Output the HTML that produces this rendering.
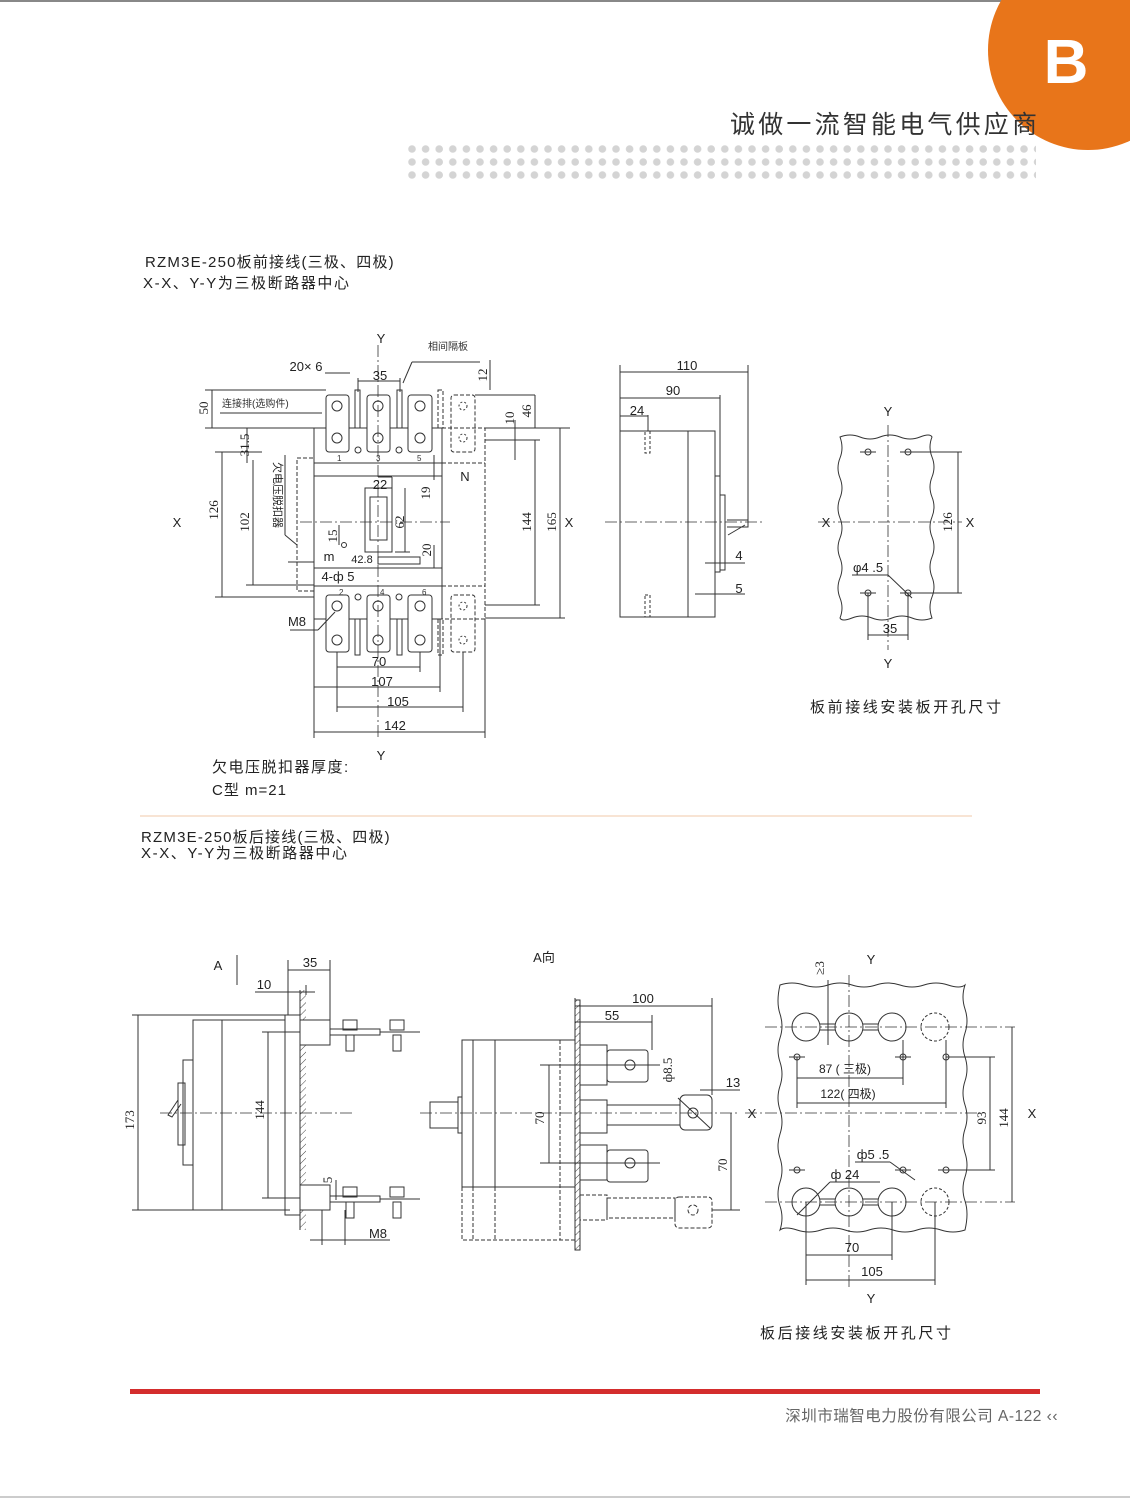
<!DOCTYPE html>
<html><head><meta charset="utf-8"><style>
html,body{margin:0;padding:0;background:#fff;}
body{width:1130px;height:1499px;overflow:hidden;position:relative;font-family:"Liberation Sans","Noto Sans CJK SC",sans-serif;}
svg{position:absolute;left:0;top:0;}
</style></head><body>
<svg width="1130" height="1499" viewBox="0 0 1130 1499" xmlns="http://www.w3.org/2000/svg" font-family="Liberation Sans, Noto Sans CJK SC, sans-serif">
<defs>
<pattern id="dots" x="408" y="145" width="13.6" height="13" patternUnits="userSpaceOnUse"><circle cx="4" cy="4" r="3.8" fill="#d4d4d4"/></pattern>
<pattern id="hatch" width="5" height="5" patternUnits="userSpaceOnUse" patternTransform="rotate(45)"><line x1="0" y1="0" x2="0" y2="5" stroke="#444" stroke-width="1"/></pattern>
</defs>
<!-- header -->
<line x1="0" y1="1" x2="1130" y2="1" stroke="#888" stroke-width="2"/>
<rect x="404" y="145" width="632" height="39" fill="url(#dots)"/>
<circle cx="1088" cy="50" r="100" fill="#e8751a"/>
<text x="1066" y="83" font-size="62" font-weight="bold" fill="#fff" text-anchor="middle">B</text>
<text x="730" y="133" font-size="25" fill="#333" letter-spacing="3.2">诚做一流智能电气供应商</text>

<!-- titles -->
<g font-size="15" fill="#222">
<text x="145" y="267" letter-spacing="1.2">RZM3E-250板前接线(三极、四极)</text>
<text x="143" y="288" letter-spacing="1.6">X-X、Y-Y为三极断路器中心</text>
<text x="141" y="842" letter-spacing="1.2">RZM3E-250板后接线(三极、四极)</text>
<text x="141" y="858" letter-spacing="1.6">X-X、Y-Y为三极断路器中心</text>
<text x="212" y="772" letter-spacing="1.5">欠电压脱扣器厚度:</text>
<text x="212" y="795" letter-spacing="1">C型 m=21</text>
<text x="810" y="712" letter-spacing="2.6">板前接线安装板开孔尺寸</text>
<text x="760" y="1338" letter-spacing="2.6">板后接线安装板开孔尺寸</text>
</g>
<line x1="140" y1="816" x2="972" y2="816" stroke="#f0c8a8" stroke-width="1"/>

<!-- footer -->
<rect x="130" y="1389" width="910" height="5" fill="#d42d2d"/>
<text x="1058" y="1421" font-size="15.5" fill="#666" text-anchor="end" letter-spacing="0.5">深圳市瑞智电力股份有限公司 A-122 ‹‹</text>
<line x1="0" y1="1497" x2="1130" y2="1497" stroke="#999" stroke-width="1"/>

<g stroke="#333" stroke-width="1" fill="none">
<!-- ===== Front view ===== -->
<rect x="314" y="428" width="128" height="191"/>
<line x1="314" y1="463" x2="442" y2="463"/>
<line x1="314" y1="476" x2="442" y2="476"/>
<line x1="314" y1="568" x2="442" y2="568"/>
<line x1="314" y1="586" x2="442" y2="586"/>
<g stroke-dasharray="4,2">
<rect x="297" y="458" width="17" height="133"/>
<polyline points="442,428 485,428 485,619 442,619"/>
<line x1="442" y1="463" x2="485" y2="463"/>
<line x1="442" y1="586" x2="485" y2="586"/>
<rect x="451" y="395" width="24" height="57" rx="3"/>
<rect x="451" y="595" width="24" height="57" rx="3"/>
<rect x="438" y="390" width="5" height="38"/>
<rect x="438" y="619" width="5" height="36"/>
</g>
<g fill="#fff">
<rect x="326" y="395" width="23" height="57" rx="3"/>
<rect x="367" y="395" width="23" height="57" rx="3"/>
<rect x="408" y="395" width="24" height="57" rx="3"/>
<rect x="326" y="595" width="23" height="57" rx="3"/>
<rect x="367" y="595" width="23" height="57" rx="3"/>
<rect x="408" y="595" width="24" height="57" rx="3"/>
<rect x="355" y="390" width="5" height="38"/>
<rect x="397" y="390" width="5" height="38"/>
<rect x="355" y="619" width="5" height="36"/>
<rect x="397" y="619" width="5" height="36"/>
</g>
<g>
<circle cx="337" cy="406" r="5"/><circle cx="378" cy="406" r="5"/><circle cx="420" cy="406" r="5"/><circle cx="463" cy="406" r="4" stroke-dasharray="2,2"/>
<circle cx="337" cy="438" r="5"/><circle cx="378" cy="438" r="5"/><circle cx="420" cy="438" r="5"/><circle cx="463" cy="438" r="4" stroke-dasharray="2,2"/>
<circle cx="337" cy="606" r="5"/><circle cx="378" cy="606" r="5"/><circle cx="420" cy="606" r="5"/><circle cx="463" cy="606" r="4" stroke-dasharray="2,2"/>
<circle cx="337" cy="640" r="5"/><circle cx="378" cy="640" r="5"/><circle cx="420" cy="640" r="5"/><circle cx="463" cy="640" r="4" stroke-dasharray="2,2"/>
<circle cx="358" cy="450" r="3"/><circle cx="399" cy="450" r="3"/><circle cx="358" cy="597" r="3"/><circle cx="399" cy="597" r="3"/>
<circle cx="344" cy="545" r="2.5"/>
</g>
<rect x="365" y="488" width="27" height="64"/>
<rect x="370" y="497" width="17" height="43"/>
<rect x="378" y="557" width="42" height="7"/>
<g stroke-dasharray="12,3,2,3" stroke-width="0.8">
<line x1="300" y1="522" x2="450" y2="522"/>
<line x1="378" y1="345" x2="378" y2="740"/>
</g>
<line x1="325" y1="373" x2="350" y2="373"/><line x1="358" y1="381" x2="400" y2="381"/>
<line x1="358" y1="378" x2="358" y2="392"/><line x1="400" y1="378" x2="400" y2="392"/>
<line x1="212" y1="390" x2="212" y2="428"/><line x1="205" y1="390" x2="326" y2="390"/><line x1="205" y1="428" x2="314" y2="428"/>
<line x1="220" y1="413" x2="322" y2="413"/>
<line x1="403" y1="383" x2="412" y2="362"/><line x1="412" y1="362" x2="480" y2="362"/>
<line x1="222" y1="452" x2="222" y2="597"/><line x1="215" y1="452" x2="262" y2="452"/><line x1="215" y1="597" x2="314" y2="597"/>
<line x1="253" y1="460" x2="253" y2="585"/><line x1="246" y1="585" x2="314" y2="585"/>
<line x1="247" y1="428" x2="247" y2="463"/>
<line x1="285" y1="455" x2="285" y2="535"/><line x1="285" y1="535" x2="297" y2="545"/>
<line x1="288" y1="562" x2="314" y2="562"/>
<line x1="378" y1="477" x2="392" y2="477"/><line x1="392" y1="477" x2="392" y2="488"/>
<line x1="405" y1="488" x2="405" y2="552"/><line x1="395" y1="552" x2="410" y2="552"/>
<line x1="434" y1="455" x2="434" y2="480"/><line x1="434" y1="545" x2="434" y2="568"/>
<line x1="339" y1="525" x2="339" y2="545"/>
<line x1="490" y1="360" x2="490" y2="390"/>
<line x1="475" y1="395" x2="535" y2="395"/>
<line x1="535" y1="395" x2="535" y2="428"/>
<line x1="515" y1="420" x2="515" y2="460"/>
<line x1="485" y1="428" x2="570" y2="428"/><line x1="485" y1="440" x2="540" y2="440"/>
<line x1="535" y1="440" x2="535" y2="605"/><line x1="485" y1="605" x2="540" y2="605"/>
<line x1="560" y1="428" x2="560" y2="618"/><line x1="485" y1="618" x2="565" y2="618"/>
<line x1="290" y1="630" x2="318" y2="630"/><line x1="318" y1="630" x2="335" y2="612"/>
<line x1="337" y1="667" x2="420" y2="667"/><line x1="337" y1="652" x2="337" y2="712"/><line x1="420" y1="652" x2="420" y2="672"/>
<line x1="314" y1="687" x2="440" y2="687"/><line x1="314" y1="619" x2="314" y2="738"/><line x1="440" y1="619" x2="440" y2="692"/>
<line x1="337" y1="707" x2="463" y2="707"/><line x1="463" y1="652" x2="463" y2="712"/>
<line x1="314" y1="732" x2="485" y2="732"/><line x1="485" y1="619" x2="485" y2="738"/>

<!-- ===== Side view ===== -->
<rect x="620" y="431" width="95" height="186"/>
<line x1="688" y1="431" x2="688" y2="617"/>
<polyline points="715,431 715,476 720,476 720,572 715,572"/>
<rect x="720" y="495" width="5" height="75"/>
<polyline points="727,520 748,520 748,527 727,527"/>
<line x1="728" y1="535" x2="745" y2="525"/>
<g stroke-dasharray="3,2"><rect x="645" y="431" width="5" height="22"/><rect x="645" y="595" width="5" height="22"/></g>
<line x1="605" y1="522" x2="765" y2="522" stroke-dasharray="12,3,2,3" stroke-width="0.8"/>
<line x1="620" y1="365" x2="620" y2="431"/><line x1="748" y1="365" x2="748" y2="520"/><line x1="720" y1="395" x2="720" y2="476"/><line x1="648" y1="415" x2="648" y2="431"/>
<line x1="620" y1="372" x2="748" y2="372"/><line x1="620" y1="398" x2="720" y2="398"/><line x1="620" y1="416" x2="648" y2="416"/>
<line x1="705" y1="563" x2="745" y2="563"/><line x1="695" y1="594" x2="745" y2="594"/>

<!-- ===== Front cutout ===== -->
<path d="M840,437 q10,-4 20,0 t20,0 t20,0 t20,0 t12,0 q-4,10 0,20 t0,20 t0,20 t0,20 t0,20 t0,20 t0,20 t0,20 t0,21 q-10,4 -20,0 t-20,0 t-20,0 t-20,0 t-12,0 q4,-10 0,-20 t0,-20 t0,-20 t0,-20 t0,-20 t0,-20 t0,-20 t0,-20 t0,-21z"/>
<g stroke-dasharray="12,3,2,3" stroke-width="0.8"><line x1="888" y1="425" x2="888" y2="650"/><line x1="818" y1="522" x2="962" y2="522"/></g>
<circle cx="868" cy="452" r="3"/><circle cx="908" cy="452" r="3"/><circle cx="868" cy="593" r="3"/><circle cx="908" cy="593" r="3"/>
<line x1="860" y1="452" x2="876" y2="452"/><line x1="900" y1="452" x2="916" y2="452"/><line x1="860" y1="593" x2="876" y2="593"/><line x1="900" y1="593" x2="916" y2="593"/>
<line x1="908" y1="452" x2="962" y2="452"/><line x1="908" y1="593" x2="962" y2="593"/>
<line x1="958" y1="452" x2="958" y2="593"/>
<line x1="868" y1="593" x2="868" y2="640"/><line x1="908" y1="593" x2="908" y2="640"/><line x1="868" y1="635" x2="908" y2="635"/>
<line x1="852" y1="575" x2="888" y2="575"/><line x1="888" y1="575" x2="912" y2="598"/>

<!-- ===== Rear side view ===== -->
<rect x="193" y="1020" width="92" height="190"/>
<line x1="222" y1="1020" x2="222" y2="1210"/>
<rect x="183" y="1060" width="10" height="105"/>
<rect x="178" y="1083" width="7" height="62"/>
<polyline points="178,1100 168,1115 172,1117 181,1104"/>
<rect x="285" y="1015" width="15" height="200"/>
<rect x="300" y="990" width="6" height="240" fill="url(#hatch)" stroke="none"/>
<line x1="300" y1="990" x2="300" y2="1230"/>
<rect x="300" y="1020" width="30" height="25" fill="#fff"/>
<rect x="300" y="1185" width="30" height="25" fill="#fff"/>
<rect x="330" y="1029" width="50" height="6"/><rect x="330" y="1196" width="50" height="6"/>
<line x1="380" y1="1032" x2="420" y2="1032"/><line x1="380" y1="1199" x2="420" y2="1199"/>
<g><rect x="343" y="1020" width="14" height="10"/><rect x="346" y="1035" width="8" height="16"/>
<rect x="390" y="1020" width="14" height="10"/><rect x="393" y="1035" width="8" height="16"/>
<rect x="343" y="1187" width="14" height="10"/><rect x="346" y="1202" width="8" height="16"/>
<rect x="390" y="1187" width="14" height="10"/><rect x="393" y="1202" width="8" height="16"/></g>
<line x1="160" y1="1113" x2="355" y2="1113" stroke-dasharray="12,3,2,3" stroke-width="0.8"/>
<line x1="138" y1="1015" x2="138" y2="1210"/><line x1="132" y1="1015" x2="290" y2="1015"/><line x1="132" y1="1210" x2="290" y2="1210"/>
<line x1="268" y1="1032" x2="268" y2="1198"/><line x1="262" y1="1032" x2="300" y2="1032"/><line x1="262" y1="1198" x2="300" y2="1198"/>
<line x1="237" y1="955" x2="237" y2="985"/>
<line x1="288" y1="960" x2="288" y2="1015"/><line x1="330" y1="960" x2="330" y2="1020"/><line x1="288" y1="970" x2="330" y2="970"/>
<line x1="255" y1="992" x2="315" y2="992"/><line x1="306" y1="985" x2="306" y2="995"/>
<line x1="322" y1="1210" x2="322" y2="1245"/><line x1="345" y1="1210" x2="345" y2="1245"/><line x1="310" y1="1240" x2="390" y2="1240"/>
<line x1="336" y1="1180" x2="336" y2="1200"/>

<!-- ===== A direction view ===== -->
<rect x="462" y="1040" width="113" height="147"/>
<line x1="473" y1="1040" x2="473" y2="1187"/><line x1="495" y1="1040" x2="495" y2="1187"/>
<g stroke-dasharray="4,2"><polyline points="462,1187 462,1240 575,1240"/><line x1="473" y1="1187" x2="473" y2="1240"/><line x1="495" y1="1187" x2="495" y2="1240"/><line x1="560" y1="1040" x2="560" y2="1240"/>
<rect x="580" y="1195" width="27" height="25"/><rect x="607" y="1198" width="68" height="20"/><rect x="675" y="1197" width="37" height="31" rx="4"/><circle cx="693" cy="1210" r="5"/></g>
<rect x="430" y="1102" width="28" height="26"/><rect x="458" y="1097" width="4" height="36"/>
<rect x="575" y="1000" width="5" height="250" fill="url(#hatch)"/>
<rect x="580" y="1045" width="27" height="40"/><rect x="607" y="1050" width="41" height="32" rx="3"/><circle cx="630" cy="1065" r="5"/>
<rect x="580" y="1100" width="27" height="33"/><rect x="607" y="1105" width="73" height="20"/><rect x="680" y="1095" width="32" height="35" rx="5"/><circle cx="693" cy="1113" r="5"/>
<rect x="580" y="1145" width="27" height="35"/><rect x="607" y="1150" width="41" height="32" rx="3"/><circle cx="630" cy="1163" r="5"/>
<line x1="420" y1="1113" x2="740" y2="1113" stroke-dasharray="12,3,2,3" stroke-width="0.8"/>
<line x1="540" y1="1065" x2="660" y2="1065"/><line x1="540" y1="1163" x2="660" y2="1163"/>
<line x1="549" y1="1065" x2="549" y2="1163"/>
<line x1="575" y1="998" x2="575" y2="1040"/><line x1="712" y1="998" x2="712" y2="1095"/><line x1="652" y1="1015" x2="652" y2="1050"/>
<line x1="575" y1="1006" x2="712" y2="1006"/><line x1="575" y1="1022" x2="652" y2="1022"/>
<line x1="700" y1="1090" x2="740" y2="1090"/>
<line x1="731" y1="1113" x2="731" y2="1210"/><line x1="712" y1="1210" x2="740" y2="1210"/>
<line x1="678" y1="1098" x2="710" y2="1128"/>

<!-- ===== Rear cutout ===== -->
<path d="M780,985 q12,-4 24,0 t24,0 t24,0 t24,0 t24,0 t24,0 t24,0 t17,0 q-4,12 0,24 t0,24 t0,24 t0,24 t0,24 t0,24 t0,24 t0,24 t0,24 t0,29 q-12,4 -24,0 t-24,0 t-24,0 t-24,0 t-24,0 t-24,0 t-24,0 t-17,0 q4,-12 0,-24 t0,-24 t0,-24 t0,-24 t0,-24 t0,-24 t0,-24 t0,-24 t0,-24 t0,-29z"/>
<g fill="#fff"><circle cx="806" cy="1027" r="14"/><circle cx="849" cy="1027" r="14"/><circle cx="892" cy="1027" r="14"/>
<circle cx="806" cy="1202" r="14"/><circle cx="849" cy="1202" r="14"/><circle cx="892" cy="1202" r="14"/></g>
<g stroke-dasharray="3,2"><circle cx="935" cy="1027" r="14"/><circle cx="935" cy="1202" r="14"/></g>
<line x1="820" y1="1024" x2="835" y2="1024"/><line x1="820" y1="1030" x2="835" y2="1030"/><line x1="863" y1="1024" x2="878" y2="1024"/><line x1="863" y1="1030" x2="878" y2="1030"/>
<line x1="820" y1="1199" x2="835" y2="1199"/><line x1="820" y1="1205" x2="835" y2="1205"/><line x1="863" y1="1199" x2="878" y2="1199"/><line x1="863" y1="1205" x2="878" y2="1205"/>
<g stroke-dasharray="12,3,2,3" stroke-width="0.8"><line x1="765" y1="1027" x2="1015" y2="1027"/><line x1="765" y1="1202" x2="1015" y2="1202"/><line x1="745" y1="1113" x2="980" y2="1113"/><line x1="849" y1="975" x2="849" y2="1290"/></g>
<circle cx="797" cy="1057" r="3"/><circle cx="903" cy="1057" r="3"/><circle cx="946" cy="1057" r="3"/>
<circle cx="797" cy="1170" r="3"/><circle cx="903" cy="1170" r="3"/><circle cx="946" cy="1170" r="3"/>
<line x1="789" y1="1057" x2="805" y2="1057"/><line x1="895" y1="1057" x2="911" y2="1057"/><line x1="789" y1="1170" x2="805" y2="1170"/><line x1="895" y1="1170" x2="911" y2="1170"/><line x1="938" y1="1170" x2="954" y2="1170"/>
<line x1="797" y1="1057" x2="797" y2="1108"/><line x1="903" y1="1040" x2="903" y2="1085"/><line x1="946" y1="1040" x2="946" y2="1108"/>
<line x1="797" y1="1078" x2="903" y2="1078"/><line x1="797" y1="1103" x2="946" y2="1103"/>
<line x1="946" y1="1057" x2="995" y2="1057"/><line x1="946" y1="1170" x2="995" y2="1170"/>
<line x1="990" y1="1057" x2="990" y2="1170"/><line x1="1012" y1="1027" x2="1012" y2="1202"/>
<line x1="828" y1="980" x2="828" y2="1045"/>
<line x1="806" y1="1202" x2="806" y2="1285"/><line x1="892" y1="1202" x2="892" y2="1260"/><line x1="935" y1="1202" x2="935" y2="1285"/>
<line x1="806" y1="1255" x2="892" y2="1255"/><line x1="806" y1="1280" x2="935" y2="1280"/>
<line x1="855" y1="1162" x2="890" y2="1162"/><line x1="890" y1="1162" x2="915" y2="1180"/>
<line x1="830" y1="1182" x2="880" y2="1182"/><line x1="830" y1="1182" x2="797" y2="1215"/>
</g>

<!-- labels -->
<g font-size="13" fill="#222" text-anchor="middle">
<text x="381" y="343">Y</text><text x="177" y="527">X</text><text x="569" y="527">X</text><text x="381" y="760">Y</text>
<text x="306" y="371">20× 6</text><text x="380" y="380">35</text><text x="465" y="481">N</text>
<text x="380" y="489">22</text><text x="329" y="561">m</text><text x="362" y="563" font-size="11">42.8</text>
<text x="338" y="581">4-ф 5</text><text x="297" y="626">M8</text>
<text x="379" y="666">70</text><text x="382" y="686">107</text><text x="398" y="706">105</text><text x="395" y="730">142</text>
<text x="687" y="370">110</text><text x="673" y="395">90</text><text x="637" y="415">24</text><text x="739" y="560">4</text><text x="739" y="593">5</text>
<text x="888" y="416">Y</text><text x="888" y="668">Y</text><text x="826" y="527">X</text><text x="970" y="527">X</text>
<text x="868" y="572">φ4 .5</text><text x="890" y="633">35</text>
<text x="218" y="970">A</text><text x="310" y="967">35</text><text x="264" y="989">10</text><text x="378" y="1238">M8</text>
<text x="544" y="962">A向</text><text x="643" y="1003">100</text><text x="612" y="1020">55</text><text x="733" y="1087">13</text>
<text x="871" y="964">Y</text><text x="871" y="1303">Y</text><text x="752" y="1118">X</text><text x="1032" y="1118">X</text>
<text x="845" y="1073" font-size="12">87 ( 三极)</text><text x="848" y="1098" font-size="12">122( 四极)</text>
<text x="873" y="1159">ф5 .5</text><text x="845" y="1179">ф 24</text>
<text x="852" y="1252">70</text><text x="872" y="1276">105</text>
</g>
<g font-size="10" fill="#333">
<text x="428" y="350">相间隔板</text><text x="222" y="407">连接排(选购件)</text>
<text x="337" y="461" font-size="8">1</text><text x="376" y="461" font-size="8">3</text><text x="417" y="461" font-size="8">5</text>
<text x="339" y="595" font-size="8">2</text><text x="380" y="595" font-size="8">4</text><text x="422" y="595" font-size="8">6</text>
</g>
<g font-size="13" fill="#222" font-family="Liberation Serif, serif" text-anchor="middle">
<text transform="translate(208,408) rotate(-90)">50</text>
<text transform="translate(487,375) rotate(-90)">12</text>
<text transform="translate(531,411) rotate(-90)">46</text>
<text transform="translate(514,418) rotate(-90)">10</text>
<text transform="translate(249,445) rotate(-90)">31.5</text>
<text transform="translate(218,510) rotate(-90)">126</text>
<text transform="translate(249,522) rotate(-90)">102</text>
<text transform="translate(404,522) rotate(-90)">62</text>
<text transform="translate(430,493) rotate(-90)">19</text>
<text transform="translate(337,536) rotate(-90)">15</text>
<text transform="translate(431,550) rotate(-90)">20</text>
<text transform="translate(531,522) rotate(-90)">144</text>
<text transform="translate(556,522) rotate(-90)">165</text>
<text transform="translate(952,522) rotate(-90)">126</text>
<text transform="translate(134,1120) rotate(-90)">173</text>
<text transform="translate(264,1110) rotate(-90)">144</text>
<text transform="translate(332,1180) rotate(-90)">5</text>
<text transform="translate(544,1118) rotate(-90)">70</text>
<text transform="translate(727,1165) rotate(-90)">70</text>
<text transform="translate(672,1070) rotate(-90)">ф8.5</text>
<text transform="translate(986,1118) rotate(-90)">93</text>
<text transform="translate(1008,1118) rotate(-90)">144</text>
<text transform="translate(824,968) rotate(-90)">≥3</text>
<text transform="translate(274,495) rotate(90)" font-size="11" font-family="Noto Sans CJK SC, sans-serif">欠电压脱扣器</text>
</g>
</svg>
</body></html>
